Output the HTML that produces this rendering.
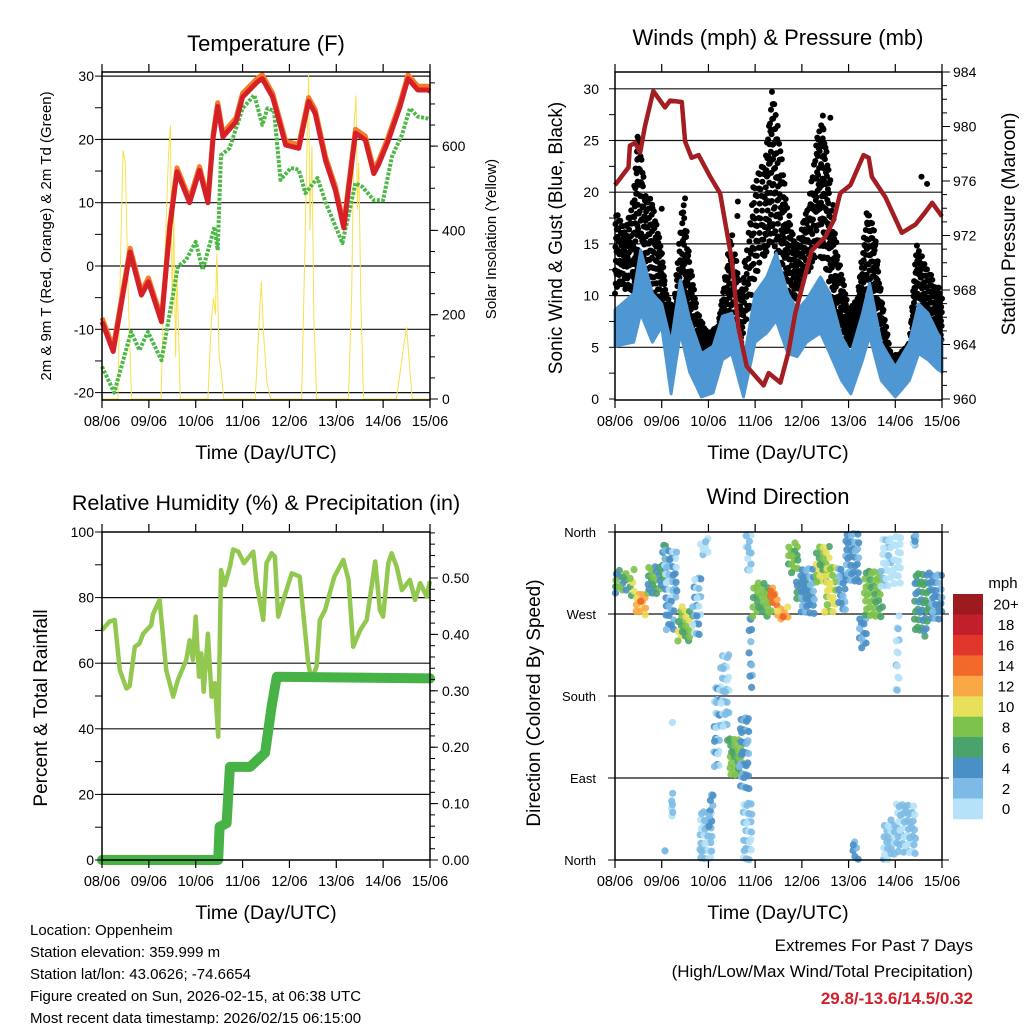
<!DOCTYPE html>
<html><head><meta charset="utf-8">
<style>
html,body{margin:0;padding:0;background:#fff;}
svg{display:block;font-family:"Liberation Sans",Arial,sans-serif;}
</style></head>
<body>
<svg id="chart" xmlns="http://www.w3.org/2000/svg" width="1024" height="1024" viewBox="0 0 1024 1024">
<rect x="0" y="0" width="1024" height="1024" fill="#fff"/>
</svg>
<script>
// ---------- Temperature panel data (time in days since 08/06) ----------
const tempT = [0,0.24,0.6,0.84,0.99,1.27,1.45,1.6,1.87,2.08,2.26,2.37,2.47,2.58,2.86,3.0,3.32,3.42,3.64,3.92,4.2,4.41,4.55,4.77,4.98,5.16,5.41,5.62,5.8,5.9,6.1,6.36,6.53,6.74,6.95,7];
const tempV = [-8.8,-13.5,2.2,-4.6,-2.5,-8.8,6.2,14.9,10,15.1,10,20.2,25.2,20.4,22.8,26.7,29.1,29.6,26.7,19.1,18.6,26,24.1,16.7,12,6,21,19.9,14.6,16,19.6,25.2,29.6,27.8,27.8,27.6];
const dewT = [0,0.26,0.62,0.8,0.98,1.27,1.62,1.8,2.0,2.15,2.4,2.47,2.54,2.72,3.0,3.25,3.42,3.53,3.67,3.81,4.03,4.2,4.34,4.6,4.77,5.13,5.41,5.56,5.8,6.0,6.19,6.4,6.57,6.74,6.95,7];
const dewV = [-15.9,-20,-10.4,-13.3,-10.4,-14.9,-0.1,1,3.8,-0.6,6.2,2.5,17.5,18.6,24.9,27,22.3,24.9,24.5,13.6,15.5,15.2,11.5,13.9,10.1,3.6,13.1,12.5,10.4,10.4,17.3,20.7,24.9,23.6,23.3,23.2];
const solarT = [0,0.34,0.40,0.45,0.50,0.56,0.63,1.26,1.33,1.42,1.46,1.50,1.53,1.57,1.60,1.67,2.26,2.33,2.38,2.42,2.45,2.47,2.5,2.54,2.6,3.27,3.33,3.40,3.45,3.52,3.6,4.26,4.32,4.38,4.41,4.44,4.48,4.52,4.58,5.26,5.33,5.38,5.42,5.45,5.48,5.52,5.58,6.28,6.36,6.43,6.5,6.55,6.62,7];
const solarV = [0,0,350,590,560,250,0,0,300,580,650,200,450,100,300,0,0,180,240,200,346,250,100,70,0,0,130,280,150,40,0,0,300,620,770,400,600,200,0,0,250,650,720,450,560,250,0,0,60,120,170,100,0,0];
// ---------- Winds panel data ----------
const pressT = [0,0.29,0.32,0.43,0.54,0.64,0.82,1.07,1.18,1.43,1.5,1.64,1.79,2.04,2.25,2.5,2.64,2.82,3.18,3.29,3.54,3.71,3.86,4.21,4.5,4.68,4.82,5.04,5.32,5.43,5.5,5.79,6.14,6.43,6.64,6.79,7];
const pressV = [975.7,977.0,978.6,978.8,978.1,980.0,982.6,981.4,981.9,981.8,978.9,977.7,977.9,976.3,975.1,970.2,965.3,962.4,961.0,961.9,961.2,963.4,966.3,970.9,971.9,973.1,975.1,975.7,977.9,977.7,976.3,974.8,972.2,972.8,973.7,974.4,973.4];
const windT = [0,0.4,0.55,0.8,1.0,1.2,1.4,1.6,1.85,2.1,2.3,2.5,2.75,3.0,3.25,3.45,3.7,3.9,4.1,4.4,4.6,4.85,5.05,5.3,5.45,5.7,6.0,6.3,6.5,6.7,6.9,7];
const windLo = [5.1,5.5,8.3,5.5,7.0,0.5,6.4,2.6,0.2,0.6,3.8,4.4,0.2,5.5,6.4,7.6,4.4,4.1,5.5,6.4,4.4,1.8,0.5,3.8,6.1,1.8,0.2,1.8,4.4,3.8,2.9,2.6];
const windHi = [8.6,10.2,14.4,10.2,9.2,5.4,11.5,7.7,4.4,5.1,8.0,8.3,3.5,10.2,11.8,14.1,10.2,8.6,9.6,11.8,10.2,6.0,4.4,8.3,11.2,5.4,3.1,5.4,9.2,8.3,6.4,5.7];
const gustT = [0,0.2,0.4,0.5,0.65,0.8,1.0,1.1,1.25,1.45,1.6,1.75,2.0,2.2,2.35,2.5,2.7,2.95,3.2,3.35,3.5,3.7,3.9,4.1,4.3,4.45,4.6,4.8,5.0,5.2,5.4,5.55,5.7,5.9,6.1,6.3,6.45,6.6,6.8,7];
const gustLo = [10.2,10.6,10.2,10.2,11.9,9.6,8.7,4.8,3.8,9.6,6.4,3.1,3.8,4.4,5.1,6.1,5.4,10.2,13.5,15.1,13.5,10.2,9.6,11.9,13.5,13.5,10.2,7.0,5.1,5.4,10.2,8.7,4.4,2.6,2.9,2.9,6.1,7.0,6.1,5.4];
const gustHi = [18.3,16.7,19.9,26.4,20.6,18.9,14.7,10.2,8.7,19.9,13.5,9.0,6.4,7.0,11.9,16.7,10.2,20.6,23.2,29.6,26.4,18.3,15.1,18.3,24.8,27.4,21.6,13.5,8.7,10.2,18.9,16.7,10.2,4.4,4.4,5.4,15.1,13.5,11.9,10.2];
const gustOutT = [3.36,3.41,4.45,4.61,4.45,6.56,6.68,2.63,2.62,1.5,1.0];
const gustOutV = [29.7,28.5,27.4,27.2,26.2,21.5,20.8,19.1,17.7,19.4,18.4];
// ---------- RH / precipitation data ----------
const rhT = [0,0.16,0.27,0.38,0.52,0.59,0.70,0.8,0.88,1.05,1.09,1.23,1.37,1.52,1.62,1.8,1.87,1.94,2.0,2.07,2.12,2.17,2.26,2.34,2.41,2.48,2.54,2.62,2.73,2.8,2.91,3.03,3.23,3.3,3.44,3.51,3.62,3.69,3.76,3.87,4.05,4.22,4.4,4.47,4.58,4.65,4.76,4.86,4.96,5.15,5.26,5.36,5.51,5.65,5.83,5.93,6.0,6.11,6.18,6.29,6.4,6.57,6.68,6.79,6.93,7];
const rhV = [70.1,72.7,73.2,57.9,52.3,53,65,66,69,71.6,75,79.3,57.9,49.8,54.9,61,67,61,74.2,55.9,63,51.3,69,49.8,53.9,37.6,88.4,83.8,89.4,94.7,94,90.5,94,84.4,73.2,90.5,93.5,92.5,74.2,79.3,87.4,86.4,60,54.9,59,73.2,76.2,81.3,86.4,91.5,85.4,65,70.1,73.2,91,76.2,74.2,90.5,93.5,89.4,82.3,85.4,79.3,84.4,80.3,85];
const rainT = [0,2.48,2.51,2.66,2.73,3.16,3.48,3.62,3.73,7];
const rainV = [0,0,0.059,0.065,0.165,0.165,0.19,0.272,0.325,0.322];
// ---------- Wind direction clusters [t0,t1,deg0,deg1,speed] ----------
const dirT0 = [0.01,0.30,0.41,0.66,0.98,1.05,1.09,1.34,1.66,1.80,1.21,1.80,2.01,2.12,2.26,2.41,2.66,2.73,2.80,2.87,2.94,3.30,3.44,3.69,3.87,3.98,4.30,4.48,4.76,4.91,5.09,5.23,5.34,5.69,5.94,6.01,5.73,6.01,6.37,6.41,6.73];
const dirT1 = [0.30,0.41,0.66,0.98,1.09,1.34,1.30,1.66,1.84,2.01,1.24,2.09,2.12,2.26,2.44,2.73,2.87,2.94,2.94,2.94,3.37,3.48,3.73,3.94,4.23,4.30,4.59,4.73,4.94,5.23,5.23,5.41,5.73,5.91,6.12,6.09,6.01,6.44,6.44,6.73,7.0];
const dirD0 = [293,289,267,289,300,285,249,240,245,333,48,0,33,91,146,91,70,0,315,179,267,278,263,315,282,267,300,271,271,300,0,230,263,300,300,176,0,7,344,245,263];
const dirD1 = [318,322,293,322,351,344,285,278,315,353,77,58,73,190,234,135,157,70,359,267,304,300,278,348,307,322,344,326,322,359,22,267,318,359,359,271,44,66,359,315,318];
const dirS = [7,9,12,7,6,3,4,9,3,1,2,2,4,3,2,8,4,2,2,4,8,14,12,8,6,4,9,10,4,4,4,4,8,1,0,1,2,2,3,6,4];
const dirPtT = [0.55,1.23,1.07,3.4,3.6];
const dirPtD = [284,151,10,291,267];
const dirPtS = [15,1,3,15,15];
const cbLabels = ['0','2','4','6','8','10','12','14','16','18','20+'];
const cbColors = ['#b5e2f8','#7dbbe6','#4a8fc6','#4aa36a','#7dc24a','#e8df5a','#f9a845','#f26a2b','#e0362b','#c1202a','#9b1b1e'];

const NS='http://www.w3.org/2000/svg';
const svg=document.getElementById('chart');
function mk(tag,parent,attrs){const e=document.createElementNS(NS,tag);for(const k in attrs)e.setAttribute(k,attrs[k]);(parent||svg).appendChild(e);return e;}
function txt(parent,x,y,s,size,anchor,extra){const e=mk('text',parent,Object.assign({x:x,y:y,'font-size':size,'text-anchor':anchor||'middle',fill:'#000'},extra||{}));e.textContent=s;return e;}
function frac(v){return v-Math.floor(v);}

const L={x0:102,x1:430}, R={x0:615,x1:942};
function xL(d){return L.x0+d*(L.x1-L.x0)/7;}
function xR(d){return R.x0+d*(R.x1-R.x0)/7;}
function yTemp(v){return 266-v*6.33;}
function ySol(v){return 399-v*0.4215;}
function yWind(v){return 399-v*10.34;}
function yPres(v){return 399-(v-960)*13.625;}
function yRH(v){return 860-v*3.28;}
function yRain(v){return 860-v*564;}
function yDir(v){return 860-v*0.9111;}
const days=['08/06','09/06','10/06','11/06','12/06','13/06','14/06','15/06'];

function pathOf(ts,vs,fx,fy){return ts.map((t,i)=>(i?'L':'M')+fx(t).toFixed(1)+' '+fy(vs[i]).toFixed(1)).join(' ');}

function frame(g,x0,x1,y0,y1,xf){
  mk('rect',g,{x:x0,y:y0,width:x1-x0,height:y1-y0,fill:'none',stroke:'#000','stroke-width':1.5});
  for(let i=0;i<8;i++){const x=xf(i);
    mk('line',g,{x1:x,y1:y1,x2:x,y2:y1+8,stroke:'#000','stroke-width':1.2});
    mk('line',g,{x1:x,y1:y0,x2:x,y2:y0-8,stroke:'#000','stroke-width':1.2});
    const t=txt(g,x,y1+26,days[i],14.5);
    
    
  }
}
function yTicks(g,side,x,vals,fy,len){vals.forEach(v=>{const y=fy(v);mk('line',g,{x1:x,y1:y,x2:side<0?x-len:x+len,y2:y,stroke:'#000','stroke-width':1});});}
function grid(g,x0,x1,vals,fy){vals.forEach(v=>{const l=mk('line',g,{x1:x0,y1:fy(v),x2:x1,y2:fy(v),stroke:'#111','stroke-width':1.2});});}
function rng(a,b,s){const r=[];for(let v=a;v<=b+1e-9;v+=s)r.push(+v.toFixed(4));return r;}

// ================= Panel 1: Temperature =================
const g1=mk('g',svg,{});


grid(g1,L.x0,L.x1,[30,20,10,0,-10,-20],yTemp);
const sol=mk('path',g1,{d:pathOf(solarT,solarV,xL,ySol),fill:'none',stroke:'#f8e04e','stroke-width':1});


const dew=mk('path',g1,{d:pathOf(dewT,dewV,xL,yTemp),fill:'none',stroke:'#4db848','stroke-width':4,'stroke-dasharray':'3 1.5','stroke-linejoin':'round'});


const t9=mk('path',g1,{d:pathOf(tempT,tempV.map(v=>v+0.6),xL,yTemp),fill:'none',stroke:'#f47a2a','stroke-width':5,'stroke-linejoin':'round'});


const t2=mk('path',g1,{d:pathOf(tempT,tempV,xL,yTemp),fill:'none',stroke:'#d62027','stroke-width':5,'stroke-linejoin':'round'});


frame(g1,L.x0,L.x1,72,400,xL);
yTicks(g1,-1,L.x0,rng(-20,30,5),yTemp,7);
yTicks(g1,1,L.x1,rng(0,750,50),ySol,5);
yTicks(g1,1,L.x1,[0,200,400,600],ySol,8);
[30,20,10,0,-10,-20].forEach(v=>{const t=txt(g1,94,yTemp(v)+5,String(v),14,'end');});
[0,200,400,600].forEach(v=>{const t=txt(g1,442,ySol(v)+5,String(v),14,'start');});
let e;
e=txt(g1,266,51,'Temperature (F)',22);
e=txt(g1,266,459,'Time (Day/UTC)',19.5);
e=txt(g1,0,0,'2m & 9m T (Red, Orange) & 2m Td (Green)',15,'middle',{transform:'translate(51,236) rotate(-90)'});
e=txt(g1,0,0,'Solar Insolation (Yellow)',15,'middle',{transform:'translate(496,239) rotate(-90)'});

// ================= Panel 2: Winds & Pressure =================
const g2=mk('g',svg,{});


grid(g2,R.x0,R.x1,[30,25,20,15,10,5],yWind);
for(let s=0;s<gustT.length-1;s++){
  const n=46;
  for(let k=0;k<n;k++){
    const f=frac(k*0.7548777+s*0.13), t=gustT[s]+(gustT[s+1]-gustT[s])*f;
    const lo=gustLo[s]+(gustLo[s+1]-gustLo[s])*f, hi=gustHi[s]+(gustHi[s+1]-gustHi[s])*f;
    const q=frac(k*0.5698403+s*0.37);
    const v=lo+(hi-lo)*q;
    const c=mk('circle',g2,{cx:xR(t).toFixed(1),cy:yWind(v).toFixed(1),r:3,fill:'#000'});
    
    
  }
}
gustOutT.forEach((t,i)=>{const c=mk('circle',g2,{cx:xR(t),cy:yWind(gustOutV[i]),r:3,fill:'#000'});});
// wind band: fill between low and high
const bandPts=[];
const steps=140;
for(let k=0;k<=steps;k++){
  const t=7*k/steps; let s=0; while(s<windT.length-2&&windT[s+1]<t)s++;
  const f=(t-windT[s])/(windT[s+1]-windT[s]);
  const lo=windLo[s]+(windLo[s+1]-windLo[s])*f, hi=windHi[s]+(windHi[s+1]-windHi[s])*f;
  bandPts.push([t,lo,hi]);
}
let bd='';
bandPts.forEach((p,i)=>{bd+=(i?'L':'M')+xR(p[0]).toFixed(1)+' '+yWind(p[2]).toFixed(1)+' ';});
for(let i=bandPts.length-1;i>=0;i--){const p=bandPts[i];bd+='L'+xR(p[0]).toFixed(1)+' '+yWind(p[1]).toFixed(1)+' ';}
const wb=mk('path',g2,{d:bd+'Z',fill:'#4f97d2',stroke:'#4f97d2','stroke-width':3,'stroke-linejoin':'round'});


const pr=mk('path',g2,{d:pathOf(pressT,pressV,xR,yPres),fill:'none',stroke:'#a31e22','stroke-width':4.5,'stroke-linejoin':'round'});


frame(g2,R.x0,R.x1,72,400,xR);
yTicks(g2,-1,R.x0,rng(0,30,2.5),yWind,6);
yTicks(g2,1,R.x1,rng(960,984,1),yPres,5);
yTicks(g2,1,R.x1,rng(960,984,4),yPres,8);
[30,25,20,15,10,5,0].forEach(v=>{const t=txt(g2,599,yWind(v)+5,String(v),14,'end');});
rng(960,984,4).forEach(v=>{const t=txt(g2,953,yPres(v)+5,String(v),14,'start');});
e=txt(g2,778,45,'Winds (mph) & Pressure (mb)',22);
e=txt(g2,778,459,'Time (Day/UTC)',19.5);
e=txt(g2,0,0,'Sonic Wind & Gust (Blue, Black)',19,'middle',{transform:'translate(562,238) rotate(-90)'});
e=txt(g2,0,0,'Station Pressure (Maroon)',19,'middle',{transform:'translate(1015,224) rotate(-90)'});

// ================= Panel 3: RH & Precip =================
const g3=mk('g',svg,{});


grid(g3,L.x0,L.x1,[80,60,40,20],yRH);
const rh=mk('path',g3,{d:pathOf(rhT,rhV,xL,yRH),fill:'none',stroke:'#92c850','stroke-width':4.5,'stroke-linejoin':'round'});


const rn=mk('path',g3,{d:pathOf(rainT,rainV,xL,yRain),fill:'none',stroke:'#47b347','stroke-width':10,'stroke-linejoin':'round','stroke-linecap':'round'});


frame(g3,L.x0,L.x1,532,860,xL);
yTicks(g3,-1,L.x0,rng(0,100,10),yRH,7);
yTicks(g3,1,L.x1,rng(0,0.58,0.02),yRain,5);
yTicks(g3,1,L.x1,rng(0,0.5,0.1),yRain,8);
[100,80,60,40,20,0].forEach(v=>{const t=txt(g3,94,yRH(v)+5,String(v),14,'end');});
rng(0,0.5,0.1).forEach(v=>{const t=txt(g3,442,yRain(v)+5,v.toFixed(2),14,'start');});
e=txt(g3,266,510,'Relative Humidity (%) & Precipitation (in)',21.5);
e=txt(g3,266,919,'Time (Day/UTC)',19.5);
e=txt(g3,0,0,'Percent & Total Rainfall',19,'middle',{transform:'translate(47,708) rotate(-90)'});

// ================= Panel 4: Wind direction =================
const g4=mk('g',svg,{});


grid(g4,R.x0,R.x1,[270,180,90],yDir);
function spCol(s){return cbColors[Math.min(10,Math.floor(s/2))];}
for(let c=0;c<dirT0.length;c++){
  const w=xR(dirT1[c])-xR(dirT0[c]), h=yDir(dirD0[c])-yDir(dirD1[c]);
  const n=Math.max(6,Math.round(w*h/24));
  for(let k=0;k<n;k++){
    const t=dirT0[c]+(dirT1[c]-dirT0[c])*frac(k*0.7548777+c*0.21);
    const d=dirD0[c]+(dirD1[c]-dirD0[c])*frac(k*0.5698403+c*0.33);
    const sp=dirS[c]+((k%3)-1)*1.2;
    const p=mk('circle',g4,{cx:xR(t).toFixed(1),cy:yDir(d).toFixed(1),r:3.6,fill:spCol(Math.max(0,sp)),'fill-opacity':0.9});
    
    
  }
}
dirPtT.forEach((t,i)=>{const p=mk('circle',g4,{cx:xR(t),cy:yDir(dirPtD[i]),r:3.6,fill:spCol(dirPtS[i])});});
frame(g4,R.x0,R.x1,532,860,xR);
const dirLab=['North','West','South','East','North'];
[360,270,180,90,0].forEach((v,i)=>{
  mk('line',g4,{x1:R.x0,y1:yDir(v),x2:R.x0-7,y2:yDir(v),stroke:'#000'});
  mk('line',g4,{x1:R.x1,y1:yDir(v),x2:R.x1+7,y2:yDir(v),stroke:'#000'});
  const t=txt(g4,596,yDir(v)+5,dirLab[i],13,'end');
});
e=txt(g4,778,504,'Wind Direction',22);
e=txt(g4,778,919,'Time (Day/UTC)',19.5);
e=txt(g4,0,0,'Direction (Colored By Speed)',19,'middle',{transform:'translate(540,703) rotate(-90)'});
// colorbar
const cb=mk('g',svg,{});


const cbTop=594, cbH=20.45;
e=txt(cb,1003,588,'mph',15);
for(let i=0;i<11;i++){
  const idx=10-i;
  const r=mk('rect',cb,{x:953,y:(cbTop+i*cbH).toFixed(1),width:30,height:cbH+0.4,fill:cbColors[idx]});
  
  
  const t=txt(cb,1006,cbTop+i*cbH+cbH/2+5.5,cbLabels[idx],15);
  
  
}

// ================= Footer text =================
const ft=mk('g',svg,{});


['Location: Oppenheim','Station elevation: 359.999 m','Station lat/lon: 43.0626; -74.6654','Figure created on Sun, 2026-02-15, at 06:38 UTC','Most recent data timestamp: 2026/02/15 06:15:00'].forEach((s,i)=>{
  const t=txt(ft,30,935+i*22,s,15,'start');
  
  
});
const ex=mk('g',svg,{});


e=txt(ex,973,951,'Extremes For Past 7 Days',17,'end');
e=txt(ex,973,977,'(High/Low/Max Wind/Total Precipitation)',17,'end');
e=txt(ex,973,1004,'29.8/-13.6/14.5/0.32',17,'end',{fill:'#d0202a','font-weight':'bold'});
</script>
</body></html>
